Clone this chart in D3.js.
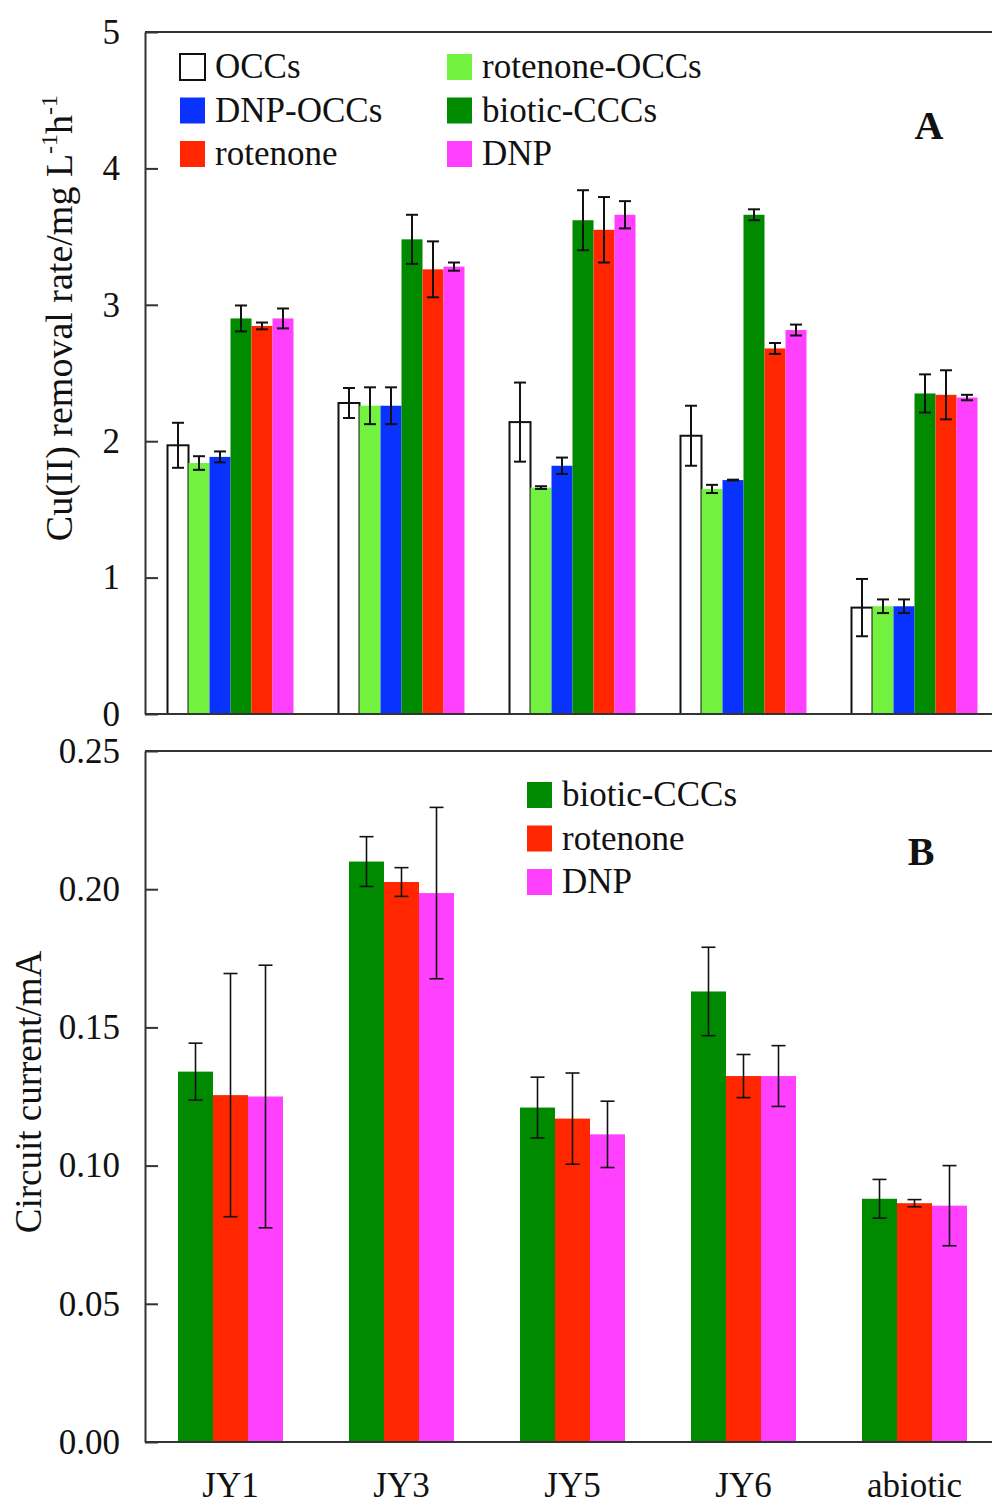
<!DOCTYPE html>
<html>
<head>
<meta charset="utf-8">
<script src="https://cdn.jsdelivr.net/npm/d3@7"></script>
<style>
  body { margin: 0; background: #fff; }
  svg { display: block; }
  text { font-family: "Liberation Serif", "Times New Roman", serif; fill: #111; }
</style>
</head>
<body>
<div id="vis"></div>
<script>
// categories
const groups = ["JY1", "JY3", "JY5", "JY6", "abiotic"];
const seriesA = ["OCCs", "rotenone-OCCs", "DNP-OCCs", "biotic-CCCs", "rotenone", "DNP"];
const seriesB = ["biotic-CCCs", "rotenone", "DNP"];

// panel A: Cu(II) removal rate (mg L-1 h-1), mean and error
const removalOCCs = [1.97, 2.28, 2.14, 2.04, 0.78];
const removalOCCsErr = [0.165, 0.11, 0.29, 0.22, 0.21];
const removalRotOCCs = [1.84, 2.26, 1.66, 1.65, 0.79];
const removalRotOCCsErr = [0.05, 0.135, 0.01, 0.03, 0.05];
const removalDnpOCCs = [1.885, 2.26, 1.82, 1.715, 0.79];
const removalDnpOCCsErr = [0.04, 0.135, 0.06, 0.003, 0.05];
const removalBiotic = [2.90, 3.48, 3.62, 3.66, 2.35];
const removalBioticErr = [0.095, 0.18, 0.22, 0.04, 0.14];
const removalRot = [2.845, 3.26, 3.55, 2.68, 2.34];
const removalRotErr = [0.025, 0.205, 0.24, 0.04, 0.18];
const removalDnp = [2.90, 3.28, 3.66, 2.815, 2.32];
const removalDnpErr = [0.073, 0.03, 0.10, 0.04, 0.02];

// panel B: circuit current (mA)
const currentBiotic = [0.134, 0.210, 0.121, 0.163, 0.088];
const currentBioticErr = [0.0103, 0.009, 0.011, 0.016, 0.007];
const currentRot = [0.1255, 0.2026, 0.117, 0.1324, 0.0864];
const currentRotErr = [0.044, 0.0052, 0.0165, 0.0078, 0.0013];
const currentDnp = [0.125, 0.1986, 0.1113, 0.1324, 0.0855];
const currentDnpErr = [0.0475, 0.031, 0.012, 0.011, 0.0145];

// tick values
const ticksA = [0, 1, 2, 3, 4, 5];
const ticksB = [0, 0.05, 0.10, 0.15, 0.20, 0.25];

const colors = {
    "OCCs": "#ffffff",
    "rotenone-OCCs": "#72f23e",
    "DNP-OCCs": "#0a32ff",
    "biotic-CCCs": "#008a00",
    "rotenone": "#ff2600",
    "DNP": "#ff40ff"
};

const tableA = {
    "OCCs": [removalOCCs, removalOCCsErr],
    "rotenone-OCCs": [removalRotOCCs, removalRotOCCsErr],
    "DNP-OCCs": [removalDnpOCCs, removalDnpOCCsErr],
    "biotic-CCCs": [removalBiotic, removalBioticErr],
    "rotenone": [removalRot, removalRotErr],
    "DNP": [removalDnp, removalDnpErr]
};
const tableB = {
    "biotic-CCCs": [currentBiotic, currentBioticErr],
    "rotenone": [currentRot, currentRotErr],
    "DNP": [currentDnp, currentDnpErr]
};

const W = 992, H = 1506;
const left = 145, right = 1000;

const svg = d3.select("#vis").append("svg")
    .attr("width", W)
    .attr("height", H);

const x = d3.scaleBand().domain(groups).range([left, right]).padding(0);

function drawPanel(opts) {
    const { table, series, yScale, ticks, fmt, groupW, capW, errW } = opts;
    const g = svg.append("g");
    const xs = d3.scaleBand().domain(series).range([0, groupW]);
    const off = (x.bandwidth() - groupW) / 2;

    const rows = [];
    series.forEach(s => {
        groups.forEach((grp, i) => {
            rows.push({ s, grp, v: table[s][0][i], e: table[s][1][i] });
        });
    });

    // bars
    g.selectAll("rect.bar")
        .data(rows)
        .join("rect")
        .attr("class", "bar")
        .attr("x", d => x(d.grp) + off + xs(d.s))
        .attr("width", xs.bandwidth())
        .attr("y", d => yScale(d.v))
        .attr("height", d => yScale(0) - yScale(d.v))
        .attr("fill", d => colors[d.s])
        .attr("stroke", d => d.s === "OCCs" ? "#111" : "none")
        .attr("stroke-width", 2);

    // error bars
    const eb = g.selectAll("g.err")
        .data(rows)
        .join("g")
        .attr("class", "err")
        .attr("stroke", "#111")
        .attr("stroke-width", errW);
    const cx = d => x(d.grp) + off + xs(d.s) + xs.bandwidth() / 2;
    eb.append("line")
        .attr("x1", cx).attr("x2", cx)
        .attr("y1", d => yScale(d.v + d.e))
        .attr("y2", d => yScale(d.v - d.e));
    eb.append("line")
        .attr("x1", d => cx(d) - capW / 2).attr("x2", d => cx(d) + capW / 2)
        .attr("y1", d => yScale(d.v + d.e)).attr("y2", d => yScale(d.v + d.e));
    eb.append("line")
        .attr("x1", d => cx(d) - capW / 2).attr("x2", d => cx(d) + capW / 2)
        .attr("y1", d => yScale(d.v - d.e)).attr("y2", d => yScale(d.v - d.e));

    // frame: top and bottom lines
    const [y0, y1] = yScale.range();
    g.append("line").attr("x1", left).attr("x2", right).attr("y1", y1).attr("y2", y1)
        .attr("stroke", "#333").attr("stroke-width", 2);
    g.append("line").attr("x1", left).attr("x2", right).attr("y1", y0).attr("y2", y0)
        .attr("stroke", "#333").attr("stroke-width", 2);

    // y axis with inner ticks
    const ax = g.append("g")
        .attr("transform", `translate(${left},0)`)
        .call(d3.axisLeft(yScale).tickValues(ticks).tickFormat(fmt)
            .tickSize(-13).tickSizeOuter(0).tickPadding(25));
    ax.select(".domain").attr("stroke", "#333").attr("stroke-width", 2);
    ax.selectAll(".tick line").attr("stroke", "#333").attr("stroke-width", 2);
    ax.selectAll(".tick text")
        .attr("font-size", 35)
        .style("font-family", "'Liberation Serif', 'Times New Roman', serif")
        .attr("fill", "#1c2230");
    return g;
}

// panel A
const yA = d3.scaleLinear().domain([0, 5]).range([714, 32]);
drawPanel({
    table: tableA, series: seriesA, yScale: yA, ticks: ticksA,
    fmt: d3.format("d"), groupW: 126, capW: 12, errW: 2
});

// panel B
const yB = d3.scaleLinear().domain([0, 0.25]).range([1442, 751]);
drawPanel({
    table: tableB, series: seriesB, yScale: yB, ticks: ticksB,
    fmt: d3.format(".2f"), groupW: 105, capW: 14, errW: 1.6
});

// x axis labels (under panel B)
const xa = svg.append("g")
    .attr("transform", "translate(0,1442)")
    .call(d3.axisBottom(x).tickSize(0).tickPadding(30));
xa.select(".domain").remove();
xa.selectAll(".tick text")
    .attr("font-size", 35)
    .style("font-family", "'Liberation Serif', 'Times New Roman', serif")
    .attr("fill", "#111");

// legends
function legend(items, x0, y0, step) {
    const lg = svg.append("g");
    items.forEach((s, i) => {
        const yy = y0 + i * step;
        lg.append("rect")
            .attr("x", x0).attr("y", yy - 24)
            .attr("width", 25).attr("height", 26)
            .attr("fill", colors[s])
            .attr("stroke", s === "OCCs" ? "#111" : "none")
            .attr("stroke-width", 2);
        lg.append("text")
            .attr("x", x0 + 35).attr("y", yy)
            .attr("font-size", 35)
            .text(s);
    });
}
legend(["OCCs", "DNP-OCCs", "rotenone"], 180, 78, 43.5);
legend(["rotenone-OCCs", "biotic-CCCs", "DNP"], 447, 78, 43.5);
legend(seriesB, 527, 806, 43.5);

// panel letters
svg.append("text").attr("x", 929).attr("y", 139)
    .attr("text-anchor", "middle").attr("font-size", 40).attr("font-weight", "bold").text("A");
svg.append("text").attr("x", 921).attr("y", 865)
    .attr("text-anchor", "middle").attr("font-size", 40).attr("font-weight", "bold").text("B");

// y titles
const tA = svg.append("text")
    .attr("transform", "translate(72,318) rotate(-90)")
    .attr("text-anchor", "middle")
    .attr("font-size", 38);
tA.append("tspan").text("Cu(II) removal rate/mg L");
tA.append("tspan").attr("dy", -15).attr("font-size", 24).text("-1");
tA.append("tspan").attr("dy", 15).text("h");
tA.append("tspan").attr("dy", -15).attr("font-size", 24).text("-1");

svg.append("text")
    .attr("transform", "translate(41,1092) rotate(-90)")
    .attr("text-anchor", "middle")
    .attr("font-size", 37)
    .text("Circuit current/mA");
</script>
</body>
</html>
